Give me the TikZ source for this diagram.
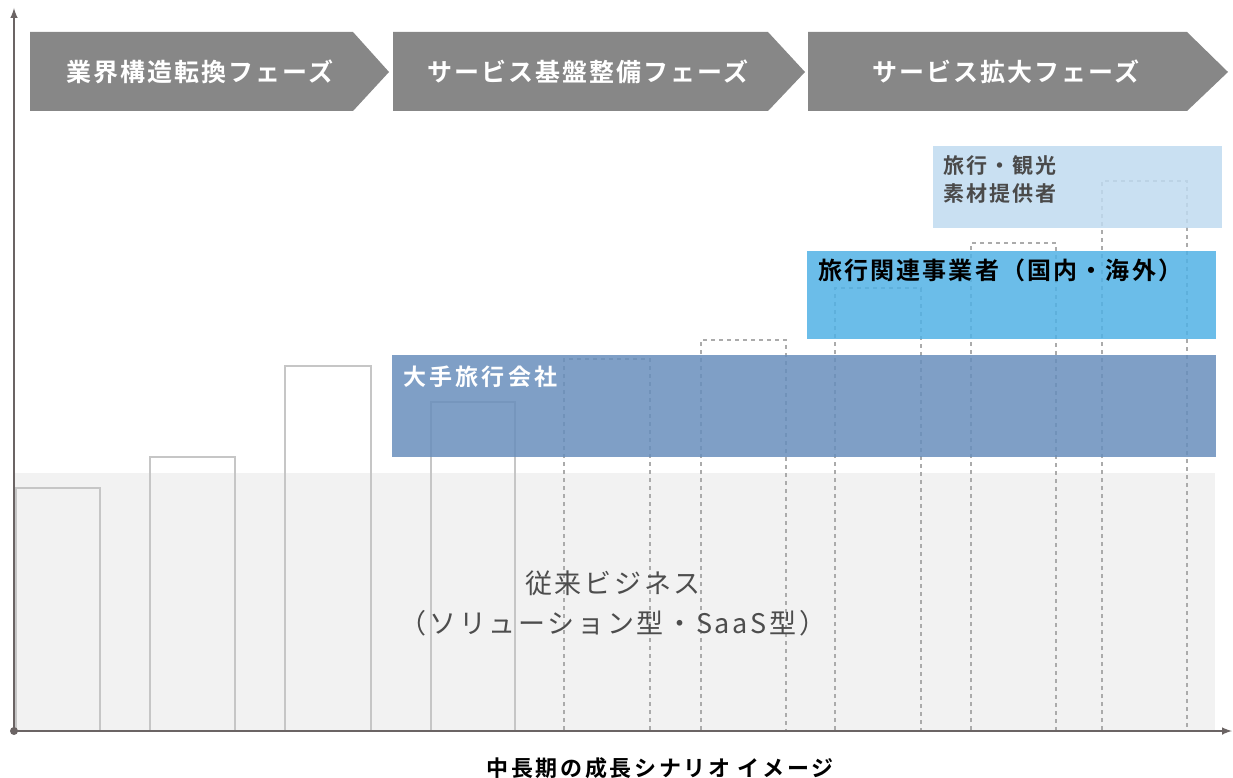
\documentclass[tikz,border=0pt]{standalone}
\usepackage{fontspec}
\setmainfont{Noto Sans CJK JP}[BoldFont={Noto Sans CJK JP Bold}]
\definecolor{phasegray}{HTML}{878787}
\definecolor{axisgray}{HTML}{6B6464}
\definecolor{bggray}{HTML}{F2F2F2}
\definecolor{bargray}{HTML}{C6C6C6}
\definecolor{dashgray}{HTML}{ABABAB}
\definecolor{majorblue}{HTML}{688EBC}
\definecolor{partnerblue}{HTML}{51B2E5}
\definecolor{supplierblue}{HTML}{C0DBF0}
\definecolor{legacytext}{HTML}{4D4D4D}
\definecolor{suppliertext}{HTML}{4A4A4A}
\tikzset{
	phase/.style={fill=phasegray},
	phasetext/.style={text=white, inner sep=0pt,
		font={\fontsize{25}{25}\selectfont\bfseries\addfontfeature{LetterSpace=8}}},
	barline/.style={draw=bargray, line width=1.4pt},
	dashbar/.style={draw=dashgray, line width=1.2pt, dash pattern=on 4pt off 4pt},
	band/.style={fill opacity=0.85},
	axisline/.style={draw=axisgray, line width=2.4pt}
}
\begin{document}
\begin{tikzpicture}[x=1pt, y=-1pt]
	\useasboundingbox (0,0) rectangle (1233,778);
	
	\fill[bggray] (14,473) rectangle (1215,730);
	
	\draw[barline] (16,730) -- (16,488) -- (100,488) -- (100,730);
	\draw[barline] (150,730) -- (150,457) -- (235,457) -- (235,730);
	\draw[barline] (285,730) -- (285,366) -- (371,366) -- (371,730);
	\draw[barline] (431,730) -- (431,402) -- (515,402) -- (515,730);
	
	\draw[dashbar] (564,730) -- (564,359) -- (650,359) -- (650,730);
	\draw[dashbar] (701,730) -- (701,340) -- (786,340) -- (786,730);
	\draw[dashbar] (835,730) -- (835,288) -- (921,288) -- (921,730);
	\draw[dashbar] (971,730) -- (971,243) -- (1056,243) -- (1056,730);
	\draw[dashbar] (1102,730) -- (1102,181) -- (1187,181) -- (1187,730);
	
	\fill[band, majorblue] (392,355) rectangle (1216,457);
	\fill[band, partnerblue] (807,251) rectangle (1216,339);
	\fill[band, supplierblue] (933,146) rectangle (1222,228);
	
	\node[anchor=west, text=white, inner sep=0pt,
		font={\fontsize{23}{23}\selectfont\bfseries\addfontfeature{LetterSpace=14}}] (major) at (403,377) {大手旅行会社};
	\node[anchor=west, text=black, inner sep=0pt,
		font={\fontsize{24}{24}\selectfont\bfseries\addfontfeature{LetterSpace=9}}] (partner) at (818,270) {旅行関連事業者（国内・海外）};
	\node[anchor=west, text=suppliertext, inner sep=0pt, align=left,
		font={\fontsize{21}{28}\selectfont\bfseries\addfontfeature{LetterSpace=10}}] (supplier) at (943,179) {旅行・観光\\素材提供者};
	\node[text=legacytext, inner sep=0pt, align=center,
		font={\fontsize{27}{40}\selectfont\addfontfeature{LetterSpace=10}}] (legacy) at (613,603) {従来ビジネス\\（ソリューション型・SaaS型）};
	
	\coordinate (origin) at (14,731);
	\coordinate (ytop) at (14,8);
	\coordinate (xend) at (1232,731);
	\draw[axisline, -latex] (origin) -- (ytop);
	\draw[axisline, -latex] (origin) -- (xend);
	\fill[axisgray] (origin) circle (4);
	
	\fill[phase] (30,32) -- (353,32) -- (389,72) -- (353,111) -- (30,111) -- cycle;
	\fill[phase] (393,32) -- (768,32) -- (805,72) -- (768,111) -- (393,111) -- cycle;
	\fill[phase] (808,32) -- (1187,32) -- (1228,72) -- (1187,111) -- (808,111) -- cycle;
	\node[phasetext] (phaseA) at (200,72) {業界構造転換フェーズ};
	\node[phasetext] (phaseB) at (588,72) {サービス基盤整備フェーズ};
	\node[phasetext] (phaseC) at (1006,72) {サービス拡大フェーズ};
	
	\node[text=black, inner sep=0pt,
		font={\fontsize{22}{22}\selectfont\bfseries\addfontfeature{LetterSpace=12}}] (caption) at (660,768) {中長期の成長シナリオ イメージ};
	
\end{tikzpicture}
\end{document}
